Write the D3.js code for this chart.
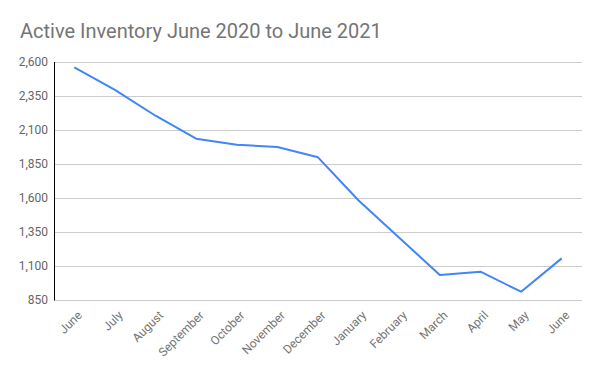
<!DOCTYPE html>
<html>
<head>
<meta charset="utf-8">
<script src="https://cdn.jsdelivr.net/npm/d3@7"></script>
<style>
  body { margin: 0; background: #fff; }
  svg { display: block; font-family: Roboto, "Noto Sans", sans-serif; }
</style>
</head>
<body>
<svg id="chart" width="600" height="371"></svg>
<script>
const months = ["June","July","August","September","October","November","December","January","February","March","April","May","June"];
const inventory = [2560, 2395, 2205, 2036, 1992, 1975, 1899, 1582, 1308, 1034, 1058, 911, 1156];
const yTicks = [850, 1100, 1350, 1600, 1850, 2100, 2350, 2600];
const title = "Active Inventory June 2020 to June 2021";

const svg = d3.select("#chart");
const margin = { left: 54, right: 18, top: 62, bottom: 71 };
const W = 600, H = 371;

const x = d3.scalePoint()
  .domain(d3.range(months.length))
  .range([margin.left, W - margin.right])
  .padding(0.5);
const y = d3.scaleLinear()
  .domain([850, 2600])
  .range([H - margin.bottom, margin.top]);

svg.append("rect").attr("width", W).attr("height", H).attr("fill", "#fff");

svg.append("text")
  .attr("x", 20).attr("y", 38)
  .attr("font-size", 20)
  .attr("fill", "#757575")
  .text(title);

// gridlines
svg.append("g")
  .selectAll("line")
  .data(yTicks)
  .join("line")
  .attr("x1", margin.left).attr("x2", W - margin.right)
  .attr("y1", d => Math.round(y(d)) + 0.5).attr("y2", d => Math.round(y(d)) + 0.5)
  .attr("stroke", "#cccccc").attr("stroke-width", 1);

// y axis labels
const yAxis = svg.append("g")
  .attr("transform", `translate(${margin.left},0)`)
  .call(d3.axisLeft(y).tickValues(yTicks).tickFormat(d3.format(",")).tickSize(0).tickPadding(6));
yAxis.select(".domain").remove();
yAxis.selectAll("text").attr("font-size", 12).attr("fill", "#666666").attr("font-family", "Roboto");

// vertical axis line
svg.append("line")
  .attr("x1", margin.left + 0.5).attr("x2", margin.left + 0.5)
  .attr("y1", y(2600)).attr("y2", y(850) + 0.5)
  .attr("stroke", "#000").attr("stroke-width", 1);

// x axis labels
const xAxis = svg.append("g")
  .attr("transform", `translate(0,${H - margin.bottom})`)
  .call(d3.axisBottom(x).tickFormat(i => months[i]).tickSize(0).tickPadding(0));
xAxis.select(".domain").remove();
xAxis.selectAll("text")
  .attr("font-size", 12).attr("fill", "#757575").attr("font-family", "Roboto")
  .attr("text-anchor", "end")
  .attr("dy", null)
  .attr("transform", "translate(8,16) rotate(-45)");

// line
svg.append("path")
  .datum(inventory)
  .attr("fill", "none")
  .attr("stroke", "#4285F4")
  .attr("stroke-width", 2)
  .attr("stroke-linejoin", "round")
  .attr("d", d3.line().x((d, i) => x(i)).y(d => y(d)));
</script>
</body>
</html>
